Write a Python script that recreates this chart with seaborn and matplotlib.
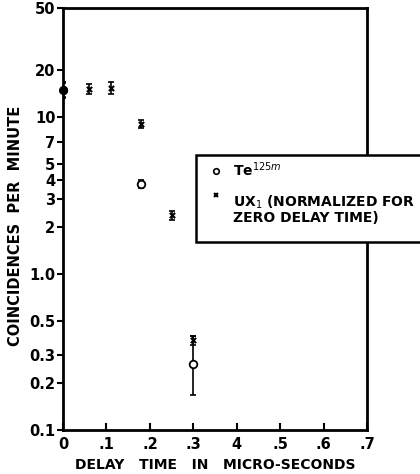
import numpy as np
import pandas as pd
import matplotlib
matplotlib.use("Agg")
import matplotlib.pyplot as plt
import seaborn as sns
from matplotlib.lines import Line2D
from matplotlib.patches import Rectangle
from matplotlib.legend_handler import HandlerLine2D

# Te125m data
te_x = [0.0, 0.18, 0.30]
te_y = [14.9, 3.74, 0.264]
te_lo = [13.4, 3.55, 0.167]
te_hi = [16.8, 3.95, 0.40]

# UX1 data (normalized)
ux_x = [0.0, 0.06, 0.11, 0.18, 0.25, 0.30]
ux_y = [15.0, 15.2, 15.4, 9.05, 2.37, 0.376]
ux_lo = [13.6, 14.1, 14.1, 8.5, 2.22, 0.35]
ux_hi = [16.5, 16.4, 16.8, 9.6, 2.52, 0.40]

yticks = [0.1, 0.2, 0.3, 0.5, 1.0, 2, 3, 4, 5, 7, 10, 20, 50]
yticklabels = ["0.1", "0.2", "0.3", "0.5", "1.0", "2", "3", "4", "5", "7", "10", "20", "50"]
xticks = [0, 0.1, 0.2, 0.3, 0.4, 0.5, 0.6, 0.7]
xticklabels = ["0", ".1", ".2", ".3", "4", ".5", ".6", ".7"]

sns.set_style("ticks")
plt.rcParams['font.family'] = ['DejaVu Sans']
for k in ['text.color', 'axes.labelcolor', 'xtick.color', 'ytick.color', 'axes.edgecolor']:
    plt.rcParams[k] = 'black'

fig = plt.figure(figsize=(4.2, 4.74), dpi=100)
ax = fig.add_axes([0.15, 0.0928, 0.724, 0.890])

te = pd.DataFrame({"x": te_x, "y": te_y})
ux = pd.DataFrame({"x": ux_x, "y": ux_y})

ax.errorbar(te_x, te_y, yerr=[np.array(te_y) - np.array(te_lo), np.array(te_hi) - np.array(te_y)],
            fmt='none', ecolor='black', elinewidth=1.2, capsize=2.5, capthick=1.2)
ax.errorbar(ux_x, ux_y, yerr=[np.array(ux_y) - np.array(ux_lo), np.array(ux_hi) - np.array(ux_y)],
            fmt='none', ecolor='black', elinewidth=1.2, capsize=2.5, capthick=1.2)
sns.scatterplot(data=te, x="x", y="y", ax=ax, marker='o', s=30, facecolor='white',
                edgecolor='black', linewidth=1.3, zorder=3)
sns.scatterplot(data=ux, x="x", y="y", ax=ax, marker='x', s=14, color='black',
                linewidth=1.5, zorder=4)
# filled dot at zero delay
ax.plot([te_x[0]], [te_y[0]], 'o', color='black', ms=5.5, zorder=5, clip_on=False)

ax.set_yscale('log')
ax.set_ylim(0.1, 50)
ax.set_xlim(0, 0.7)
ax.set_yticks(yticks)
ax.set_yticklabels(yticklabels)
ax.minorticks_off()
ax.set_xticks(xticks)
ax.set_xticklabels(xticklabels)
ax.tick_params(axis='y', direction='out', length=4, width=1.5, labelsize=10.5, pad=1.5)
ax.tick_params(axis='x', direction='in', length=5, width=1.5, labelsize=10.5, pad=5)
for lab in ax.get_xticklabels() + ax.get_yticklabels():
    lab.set_fontweight('bold')
for sp in ax.spines.values():
    sp.set_visible(True)
    sp.set_linewidth(2)
    sp.set_color('black')

ax.set_xlabel("DELAY   TIME   IN   MICRO-SECONDS", fontsize=10, fontweight='bold', labelpad=4)
ax.set_ylabel("COINCIDENCES  PER  MINUTE", fontsize=10.5, fontweight='bold')
ax.yaxis.set_label_coords(-0.132, 0.483)

# legend box
box = Rectangle((196 / 420, 1 - 242 / 474), 0.6, (242 - 155) / 474, transform=fig.transFigure,
                facecolor='white', edgecolor='black', linewidth=1.8, zorder=9, clip_on=False)
fig.add_artist(box)


def raise_marker(legend_handle, orig_handle):
    legend_handle.update_from(orig_handle)
    y = legend_handle.get_ydata()
    if len(y):
        legend_handle.set_ydata(np.asarray(y, dtype=float) + 11)


handles = [
    Line2D([], [], marker='o', ls='none', mfc='white', mec='black', ms=4, mew=1.2),
    Line2D([], [], marker='x', ls='none', color='black', ms=3.5, mew=1.5),
]
leg = fig.legend(handles, ["Te$^{125m}$", "UX$_1$ (NORMALIZED FOR\nZERO DELAY TIME)"],
                 loc='upper left', bbox_to_anchor=(213 / 420, 1 - 160 / 474), bbox_transform=fig.transFigure,
                 frameon=False, prop={'size': 10, 'weight': 'bold'}, handlelength=0.5,
                 handletextpad=0.95, borderpad=0.0, borderaxespad=0.0, labelspacing=1.1,
                 handler_map={handles[1]: HandlerLine2D(update_func=raise_marker)})
for t in leg.get_texts():
    t.set_linespacing(1.0)
leg.set_zorder(10)

fig.savefig("out.png", dpi=100)
